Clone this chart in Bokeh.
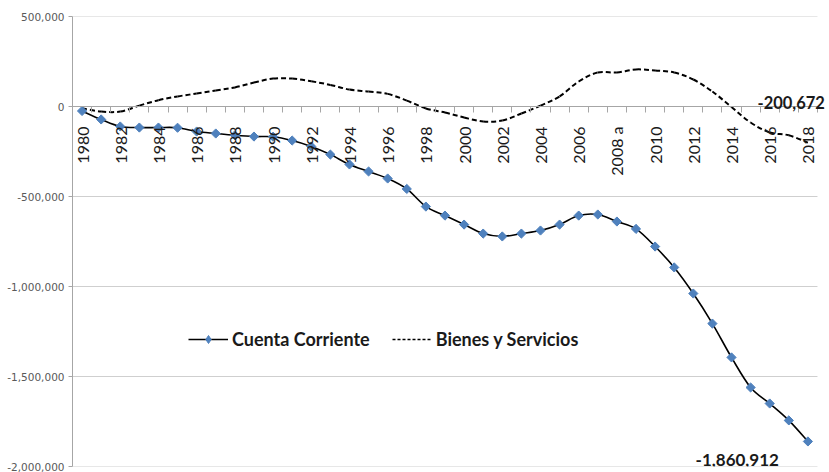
import numpy as np
from bokeh.plotting import figure
from bokeh.models import (FixedTicker, Legend, LegendItem, NumeralTickFormatter,
                          Range1d, ColumnDataSource, Label)
from bokeh.core.properties import value
from bokeh.embed import file_html
from bokeh.resources import INLINE

# --- data -------------------------------------------------------------------
years = [str(y) for y in range(1980, 2019)]
years[28] = "2008 a"

cuenta_corriente = [
    -25000, -72000, -111000, -117000, -117000, -118000, -139000, -150000,
    -160000, -167000, -168000, -189000, -222000, -267000, -322000, -361000,
    -400000, -458000, -556000, -606000, -656000, -706000, -722000, -706000,
    -689000, -656000, -606000, -600000, -639000, -680000, -778000, -894000,
    -1039000, -1206000, -1394000, -1561000, -1650000, -1744000, -1860912,
]

bienes_servicios = [
    -10000, -28000, -28000, 5000, 35000, 56000, 72000, 89000,
    106000, 133000, 155000, 155000, 140000, 120000, 94000, 83000,
    70000, 33000, -11000, -33000, -61000, -83000, -78000, -39000,
    5000, 56000, 139000, 189000, 189000, 206000, 200000, 189000,
    150000, 83000, -3000, -89000, -144000, -160000, -200672,
]

y_ticks = [500000, 0, -500000, -1000000, -1500000, -2000000]
label_years = list(range(0, len(years), 2))

FONT = "Lato"
x = np.arange(len(years), dtype=float)
x_first, x_last = -0.5, len(years) - 0.5      # category band edges


def smooth_segments(xs, ys):
    """Cubic Bezier pieces (Catmull-Rom style) joining consecutive points."""
    xs = np.asarray(xs, dtype=float)
    ys = np.asarray(ys, dtype=float)
    n = len(xs)
    out = dict(x0=[], y0=[], x1=[], y1=[], cx0=[], cy0=[], cx1=[], cy1=[])
    for i in range(n - 1):
        a = i - 1 if i > 0 else i
        d = i + 2 if i + 2 < n else i + 1
        out["x0"].append(xs[i]); out["y0"].append(ys[i])
        out["x1"].append(xs[i + 1]); out["y1"].append(ys[i + 1])
        out["cx0"].append(xs[i] + (xs[i + 1] - xs[a]) / 6)
        out["cy0"].append(ys[i] + (ys[i + 1] - ys[a]) / 6)
        out["cx1"].append(xs[i + 1] - (xs[d] - xs[i]) / 6)
        out["cy1"].append(ys[i + 1] - (ys[d] - ys[i]) / 6)
    return ColumnDataSource(out)


# the frame runs to the right edge so the end label is not clipped;
# the grid itself stops at the last category band
p = figure(width=829, height=472, output_backend="svg", toolbar_location=None,
           x_range=Range1d(x_first, x_last + 0.63),
           y_range=Range1d(-2000000, 500000),
           min_border_left=72, min_border_right=0, min_border_top=16,
           min_border_bottom=6)
p.outline_line_color = None
p.background_fill_color = "white"
p.border_fill_color = "white"

# --- grid & axes ------------------------------------------------------------
p.xgrid.visible = False
p.ygrid.visible = False
p.segment(x0=[x_first] * len(y_ticks), x1=[x_last] * len(y_ticks),
          y0=y_ticks, y1=y_ticks, line_color="#cfcfcf", line_width=1)

yax = p.yaxis[0]
yax.ticker = FixedTicker(ticks=y_ticks)
yax.formatter = NumeralTickFormatter(format="0,0")
yax.axis_line_color = "#a6a6a6"
yax.major_tick_line_color = "#a6a6a6"
yax.major_tick_out = 4
yax.major_tick_in = 0
yax.minor_tick_line_color = None
yax.major_label_standoff = 4
yax.major_label_text_font = "DejaVu Sans"
yax.major_label_text_font_size = "10.5px"
yax.major_label_text_color = "#595959"

xax = p.xaxis[0]
xax.fixed_location = 0
xax.bounds = (x_first, x_last)
xax.ticker = FixedTicker(ticks=label_years,
                         minor_ticks=[i - 0.5 for i in range(len(years) + 1)])
xax.major_label_overrides = {i: years[i] for i in label_years}
xax.major_label_orientation = np.pi / 2
xax.major_tick_out = 0
xax.major_tick_in = 0
xax.minor_tick_out = 6
xax.minor_tick_in = 0
xax.minor_tick_line_color = "#a6a6a6"
xax.axis_line_color = "#a6a6a6"
xax.major_label_standoff = 14
xax.major_label_text_font = FONT
xax.major_label_text_font_size = "16px"
xax.major_label_text_color = "#1a1a1a"

# --- series -----------------------------------------------------------------
p.bezier(x0="x0", y0="y0", x1="x1", y1="y1", cx0="cx0", cy0="cy0",
         cx1="cx1", cy1="cy1", source=smooth_segments(x, bienes_servicios),
         line_color="black", line_width=2, line_dash="5 3")

p.bezier(x0="x0", y0="y0", x1="x1", y1="y1", cx0="cx0", cy0="cy0",
         cx1="cx1", cy1="cy1", source=smooth_segments(x, cuenta_corriente),
         line_color="black", line_width=1.6)

p.scatter(x, cuenta_corriente, marker="square", angle=np.pi / 4,
          size=6.5, fill_color="#4f81bd", line_color="#4f81bd")

# legend swatches (styles only, nothing plotted)
cc_swatch = p.line(x=[np.nan], y=[np.nan], line_color="black", line_width=1.6)
cc_mark = p.scatter(x=[np.nan], y=[np.nan], marker="diamond", size=8,
                    fill_color="#4f81bd", line_color="#4f81bd")
bs_swatch = p.line(x=[np.nan], y=[np.nan], line_color="black",
                   line_width=1.6, line_dash="3 2")

legend = Legend(items=[
    LegendItem(label="Cuenta Corriente", renderers=[cc_swatch, cc_mark]),
    LegendItem(label="Bienes y Servicios", renderers=[bs_swatch]),
], orientation="horizontal", location=(116, 116))
legend.label_text_font = FONT
legend.label_text_font_style = "bold"
legend.label_text_font_size = "18px"
legend.label_text_color = "#1a1a1a"
legend.glyph_width = 40
legend.glyph_height = 20
legend.label_standoff = 4
legend.spacing = 22
legend.padding = 0
legend.margin = 0
legend.border_line_color = None
legend.background_fill_alpha = 0
p.add_layout(legend, "center")

# --- end-value labels -------------------------------------------------------
last = len(years) - 1
p.add_layout(Label(x=x[last], y=bienes_servicios[last],
                   text=f"{bienes_servicios[last]:,}", x_offset=17, y_offset=40,
                   text_align="right", text_baseline="alphabetic",
                   text_font=FONT, text_font_style="bold",
                   text_font_size="16.5px", text_color="#1a1a1a"))
p.add_layout(Label(x=x[last], y=cuenta_corriente[last],
                   text=f"{cuenta_corriente[last]:,}", x_offset=-29, y_offset=-19,
                   text_align="right", text_baseline="alphabetic",
                   text_font=FONT, text_font_style="bold",
                   text_font_size="17px", text_color="#1a1a1a"))

open("out.html", "w").write(file_html(p, INLINE))
